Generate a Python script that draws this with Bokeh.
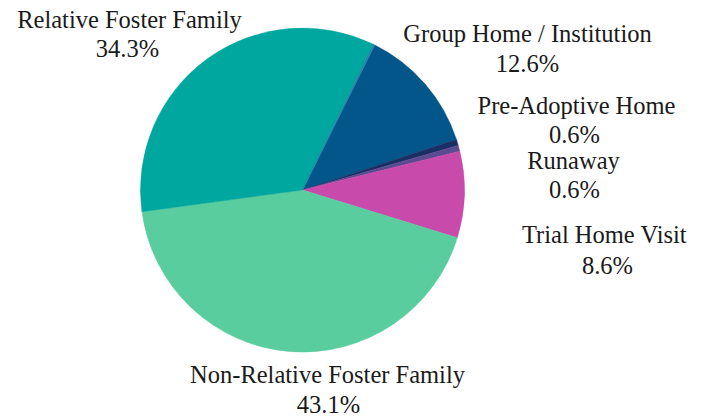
import math
from bokeh.plotting import figure
from bokeh.models import Range1d, ColumnDataSource
from bokeh.core.properties import value
from bokeh.embed import file_html
from bokeh.resources import INLINE

# ---- data ----
categories = ["Group Home / Institution", "Pre-Adoptive Home", "Runaway",
              "Trial Home Visit", "Non-Relative Foster Family",
              "Relative Foster Family", "Other"]
shares = [12.6, 0.6, 0.6, 8.6, 43.1, 34.3, 0.2]
show_label = [True, True, True, True, True, True, False]

# ---- style / layout ----
colors = ["#02568A", "#1B2F67", "#5C4A90", "#C84AAA", "#5ACD9E", "#00A79F", "#1E86A6"]
W, H = 708, 416
CX, CY = 302, H - 189.5    # pie centre (figure pixels, y up)
R = 162
START_DEG = 63.5           # slices run clockwise from here
FONT = "Liberation Serif"
FSIZE = "24.5px"
# label block anchors (name line, percent line), page pixels relative to pie centre
label_anchor = {
    "Group Home / Institution": ((225, -157), (225, -127)),
    "Pre-Adoptive Home": ((274, -85), (272, -56)),
    "Runaway": ((271, -30), (272, -1)),
    "Trial Home Visit": ((302, 44), (305, 75)),
    "Non-Relative Foster Family": ((25, 184), (26, 214)),
    "Relative Foster Family": ((-173, -171), (-175, -142)),
}

total = sum(shares)
starts, ends = [], []
cum = 0.0
for s in shares:
    a0 = START_DEG - (cum + s) / total * 360.0
    a1 = START_DEG - cum / total * 360.0
    starts.append(math.radians(a0))
    ends.append(math.radians(a1))
    cum += s

src = ColumnDataSource(dict(x=[CX] * len(shares), y=[CY] * len(shares),
                            start=starts, end=ends, color=colors))

p = figure(width=W, height=H, output_backend="svg", toolbar_location=None,
           x_range=Range1d(0, W), y_range=Range1d(0, H), min_border=0)
p.axis.visible = False
p.grid.visible = False
p.outline_line_color = None
p.background_fill_color = "white"

p.wedge(x="x", y="y", radius=R, start_angle="start", end_angle="end",
        color="color", line_color="color", line_width=0.5, source=src)

nx, ny, nt, px, py, pt = [], [], [], [], [], []
for cat, s, show in zip(categories, shares, show_label):
    if not show:
        continue
    (dx1, dy1), (dx2, dy2) = label_anchor[cat]
    nx.append(CX + dx1); ny.append(CY - dy1); nt.append(cat)
    px.append(CX + dx2); py.append(CY - dy2); pt.append(f"{s:.1f}%")

p.text(x=nx, y=ny, text=nt, text_align="center", text_baseline="middle",
       text_font=value(FONT), text_font_size=FSIZE, text_color="#1a1a1a")
p.text(x=px, y=py, text=pt, text_align="center", text_baseline="middle",
       text_font=value(FONT), text_font_size=FSIZE, text_color="#1a1a1a")

open("out.html", "w").write(file_html(p, INLINE))
